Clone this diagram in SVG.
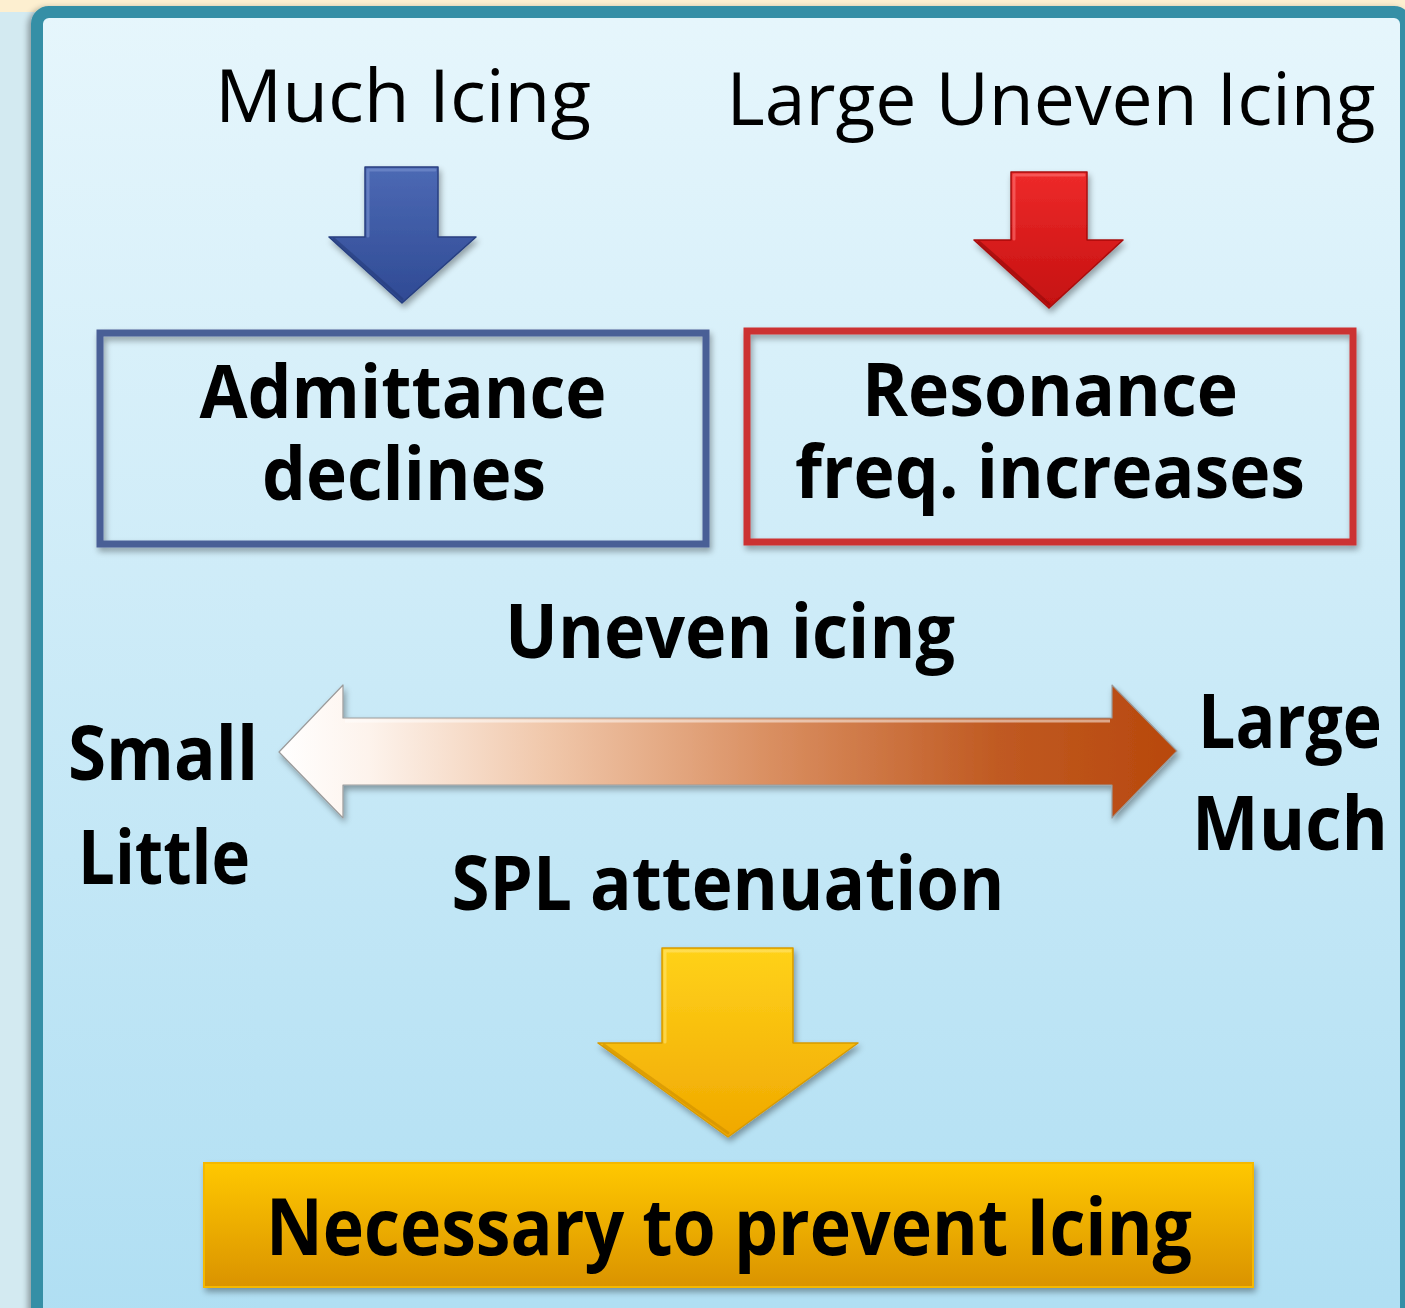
<svg xmlns="http://www.w3.org/2000/svg" width="1405" height="1308" viewBox="0 0 1405 1308">
  <style>
    .reg { font-family: "Open Sans", "Liberation Sans", sans-serif; font-weight: 400; fill: #000; }
    .bold { font-family: "Open Sans", "Liberation Sans", sans-serif; font-weight: 700; fill: #000; }
    .hi { fill: none; stroke-width: 3; stroke-linejoin: round; stroke-linecap: round; opacity: 0.55; }
  </style>
  <defs>
    <linearGradient id="panelFill" x1="0" y1="0" x2="0" y2="1">
      <stop offset="0" stop-color="#E6F6FC"/>
      <stop offset="1" stop-color="#ACDDF2"/>
    </linearGradient>
    <linearGradient id="blueFill" x1="0" y1="0" x2="0" y2="1">
      <stop offset="0" stop-color="#4C69B4"/>
      <stop offset="1" stop-color="#2F4A94"/>
    </linearGradient>
    <linearGradient id="redFill" x1="0" y1="0" x2="0" y2="1">
      <stop offset="0" stop-color="#EE2A2A"/>
      <stop offset="1" stop-color="#C41010"/>
    </linearGradient>
    <linearGradient id="yellowFill" x1="0" y1="0" x2="0" y2="1">
      <stop offset="0" stop-color="#FFD21A"/>
      <stop offset="1" stop-color="#F0A800"/>
    </linearGradient>
    <linearGradient id="scaleFill" x1="279" y1="0" x2="1177" y2="0" gradientUnits="userSpaceOnUse">
      <stop offset="0" stop-color="#FFFFFF"/>
      <stop offset="0.1" stop-color="#FDF3EC"/>
      <stop offset="0.3" stop-color="#F0C7AA"/>
      <stop offset="0.55" stop-color="#D98E60"/>
      <stop offset="0.8" stop-color="#C05A22"/>
      <stop offset="1" stop-color="#B8480C"/>
    </linearGradient>
    <linearGradient id="btnFill" x1="0" y1="0" x2="0" y2="1">
      <stop offset="0" stop-color="#FFC800"/>
      <stop offset="1" stop-color="#DA9300"/>
    </linearGradient>
    <filter id="shadow" x="-10%" y="-10%" width="120%" height="130%">
      <feGaussianBlur in="SourceAlpha" stdDeviation="3"/>
      <feOffset dx="2" dy="4" result="b"/>
      <feComponentTransfer><feFuncA type="linear" slope="0.35"/></feComponentTransfer>
      <feMerge><feMergeNode/><feMergeNode in="SourceGraphic"/></feMerge>
    </filter>
    <filter id="panelShadow" x="-5%" y="-5%" width="110%" height="110%">
      <feGaussianBlur in="SourceAlpha" stdDeviation="3"/>
      <feOffset dx="-3" dy="2" result="b"/>
      <feComponentTransfer><feFuncA type="linear" slope="0.35"/></feComponentTransfer>
      <feMerge><feMergeNode/><feMergeNode in="SourceGraphic"/></feMerge>
    </filter>
  </defs>

  <!-- page background -->
  <rect x="0" y="0" width="1405" height="1308" fill="#D3EAF1"/>
  <rect x="0" y="0" width="1405" height="12" fill="#FDEFD0"/>

  <!-- framed panel -->
  <rect x="37" y="12" width="1369" height="1400" rx="12" fill="url(#panelFill)" stroke="#358FA6" stroke-width="12" filter="url(#panelShadow)"/>

  <!-- top labels -->
  <g id="much-icing">
    <text class="reg" x="403" y="122" font-size="74" text-anchor="middle" textLength="376" lengthAdjust="spacingAndGlyphs">Much Icing</text>
  </g>
  <g id="large-uneven-icing">
    <text class="reg" x="1051" y="125" font-size="74" text-anchor="middle" textLength="649" lengthAdjust="spacingAndGlyphs">Large Uneven Icing</text>
  </g>

  <!-- result boxes -->
  <g id="admittance">
    <rect x="100" y="333" width="606" height="211" fill="none" stroke="#4A5E96" stroke-width="7" filter="url(#shadow)"/>
    <text class="bold" x="403" y="418" font-size="74" text-anchor="middle" textLength="407" lengthAdjust="spacingAndGlyphs">Admittance</text>
    <text class="bold" x="404" y="500" font-size="74" text-anchor="middle" textLength="284" lengthAdjust="spacingAndGlyphs">declines</text>
  </g>
  <g id="resonance">
    <rect x="747" y="331" width="606" height="211" fill="none" stroke="#CC3333" stroke-width="7" filter="url(#shadow)"/>
    <text class="bold" x="1050" y="416" font-size="74" text-anchor="middle" textLength="376" lengthAdjust="spacingAndGlyphs">Resonance</text>
    <text class="bold" x="1050" y="498" font-size="74" text-anchor="middle" textLength="510" lengthAdjust="spacingAndGlyphs">freq. increases</text>
  </g>

  <!-- scale labels -->
  <g id="uneven-icing">
    <text class="bold" x="730" y="658" font-size="76" text-anchor="middle" textLength="450" lengthAdjust="spacingAndGlyphs">Uneven icing</text>
  </g>
  <g id="small-little">
    <text class="bold" x="163" y="780" font-size="76" text-anchor="middle" textLength="190" lengthAdjust="spacingAndGlyphs">Small</text>
    <text class="bold" x="164" y="884" font-size="76" text-anchor="middle" textLength="172" lengthAdjust="spacingAndGlyphs">Little</text>
  </g>
  <g id="large-much">
    <text class="bold" x="1290" y="748" font-size="76" text-anchor="middle" textLength="184" lengthAdjust="spacingAndGlyphs">Large</text>
    <text class="bold" x="1290" y="850" font-size="76" text-anchor="middle" textLength="196" lengthAdjust="spacingAndGlyphs">Much</text>
  </g>
  <g id="spl-attenuation">
    <text class="bold" x="728" y="910" font-size="76" text-anchor="middle" textLength="553" lengthAdjust="spacingAndGlyphs">SPL attenuation</text>
  </g>

  <!-- conclusion -->
  <g id="prevent-icing">
    <rect x="204" y="1163" width="1049" height="124" fill="url(#btnFill)" stroke="#F5B800" stroke-width="2" filter="url(#shadow)"/>
    <text class="bold" x="729" y="1255" font-size="78" text-anchor="middle" textLength="926" lengthAdjust="spacingAndGlyphs">Necessary to prevent Icing</text>
  </g>

  <!-- connectors: bevelled block arrows -->
  <g id="connectors">
    <!-- Much Icing to Admittance declines -->
    <polygon points="365,167 438,167 438,237 476,237 402,303 329,237 365,237" fill="url(#blueFill)" stroke="#283F80" stroke-width="1.5" stroke-linejoin="round" filter="url(#shadow)"/>
    <polyline class="hi" points="368,236 368,170 435,170" stroke="#7E95D2"/>
    <polyline class="hi" points="334,239 402,299" stroke="#243A78"/>
    <!-- Large Uneven Icing to Resonance freq. increases -->
    <polygon points="1011,172 1087,172 1087,240 1123,240 1049,308 974,240 1011,240" fill="url(#redFill)" stroke="#A80E0E" stroke-width="1.5" stroke-linejoin="round" filter="url(#shadow)"/>
    <polyline class="hi" points="1014,239 1014,175 1084,175" stroke="#FF7A7A"/>
    <polyline class="hi" points="979,242 1049,304" stroke="#8E0A0A"/>
    <!-- two-headed scale arrow -->
    <polygon points="279,752 343,685 343,718 1112,718 1112,685 1177,751 1112,818 1112,785 343,785 343,818" fill="url(#scaleFill)" stroke="#9B9B9B" stroke-width="1.2" stroke-linejoin="round" filter="url(#shadow)"/>
    <line x1="345" y1="721" x2="1110" y2="721" stroke="#FFFFFF" stroke-width="3" opacity="0.5"/>
    <!-- SPL attenuation to Necessary to prevent Icing -->
    <polygon points="662,948 793,948 793,1043 858,1043 728,1137 598,1043 662,1043" fill="url(#yellowFill)" stroke="#D89A00" stroke-width="1.5" stroke-linejoin="round" filter="url(#shadow)"/>
    <polyline class="hi" points="665,1042 665,951 790,951" stroke="#FFE67A"/>
    <polyline class="hi" points="604,1045 728,1133" stroke="#C98A00"/>
  </g>
</svg>
